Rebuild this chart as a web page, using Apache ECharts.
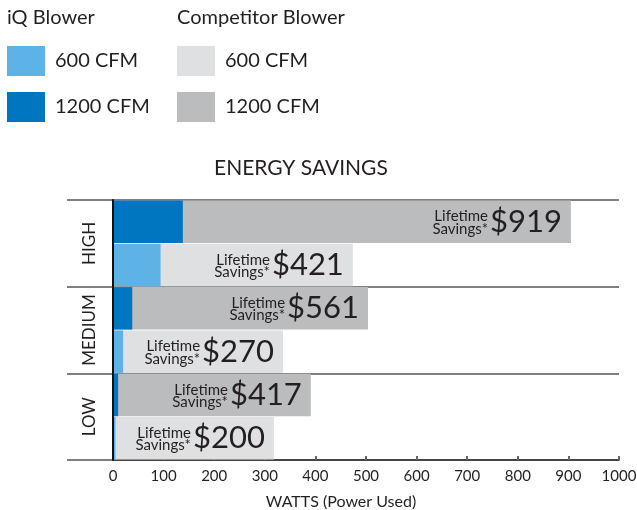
<!DOCTYPE html>
<html>
<head>
<meta charset="utf-8">
<script src="https://cdn.jsdelivr.net/npm/echarts@6/dist/echarts.min.js"></script>
<style>
  html, body { margin: 0; padding: 0; background: #ffffff; }
  #chart { width: 637px; height: 510px; }
</style>
</head>
<body>
<div id="chart"></div>
<script>
// Fan speed levels, top to bottom
const levels = ['HIGH', 'MEDIUM', 'LOW'];

// Power draw in watts per level
const iq1200 = [138, 38, 10];
const iq600 = [94, 20, 5];
const comp1200 = [905, 504, 391];
const comp600 = [474, 336, 318];

// Lifetime savings in dollars per level
const savings1200 = [919, 561, 417];
const savings600 = [421, 270, 200];

// Axis ticks
const wattTicks = { min: 0, max: 1000, step: 100 };

const FONT = 'Lato';
const INK = '#231f20';
const COLORS = {
  iq600: '#5db3e6',
  iq1200: '#0075c0',
  comp600: '#dfe0e2',
  comp1200: '#bbbcbe'
};
const BIG_SIZE = 31;

// Each level gets two rows: 1200 CFM on top, 600 CFM below
const rowKeys = [];
levels.forEach(l => { rowKeys.push(l + ' 1200'); rowKeys.push(l + ' 600'); });

function rowsFor(top, bottom) {
  const out = [];
  levels.forEach((l, i) => {
    out.push(top ? top[i] : '-');
    out.push(bottom ? bottom[i] : '-');
  });
  return out;
}

const compRows = rowsFor(comp1200, comp600);
const savingsRows = rowsFor(savings1200, savings600);

// Width of the dollar figure, so the small caption can sit right before it
const measure = document.createElement('canvas').getContext('2d');
measure.font = BIG_SIZE + 'px ' + FONT;
const bigText = v => '$' + v;
const bigWidth = v => measure.measureText(bigText(v)).width;

const noteData = compRows.map((v, i) => ({
  value: v,
  label: { offset: [-(bigWidth(savingsRows[i]) + 2), 1] }
}));

const chart = echarts.init(document.getElementById('chart'), null, { renderer: 'canvas' });

const bigLabel = {
  show: true,
  position: 'insideRight',
  distance: 9,
  formatter: p => '{n|' + bigText(savingsRows[p.dataIndex]) + '}',
  rich: { n: { fontSize: BIG_SIZE, fontFamily: FONT, color: INK } }
};

const splitStyle = { show: true, lineStyle: { color: '#555555', width: 1.5 } };

chart.setOption({
  animation: false,
  backgroundColor: '#ffffff',
  textStyle: { fontFamily: FONT },
  title: [
    { text: 'iQ Blower', left: 7, top: 8, padding: 0,
      textStyle: { fontSize: 20, fontWeight: 'normal', color: INK, fontFamily: FONT } },
    { text: 'Competitor Blower', left: 177, top: 8, padding: 0,
      textStyle: { fontSize: 20, fontWeight: 'normal', color: INK, fontFamily: FONT } },
    { text: 'ENERGY SAVINGS', left: 214, top: 158, padding: 0,
      textStyle: { fontSize: 21, fontWeight: 'normal', color: INK, fontFamily: FONT } }
  ],
  legend: [
    { data: ['iQ 600 CFM', 'iQ 1200 CFM'], left: 7, top: 46, padding: 0,
      orient: 'vertical', icon: 'rect', itemWidth: 38, itemHeight: 30, itemGap: 16,
      selectedMode: false,
      formatter: n => n.replace(/^iQ /, ''),
      textStyle: { fontSize: 20, color: INK, fontFamily: FONT, padding: [0, 0, 0, 5] } },
    { data: ['Competitor 600 CFM', 'Competitor 1200 CFM'], left: 177, top: 46, padding: 0,
      orient: 'vertical', icon: 'rect', itemWidth: 38, itemHeight: 30, itemGap: 16,
      selectedMode: false,
      formatter: n => n.replace(/^Competitor /, ''),
      textStyle: { fontSize: 20, color: INK, fontFamily: FONT, padding: [0, 0, 0, 5] } }
  ],
  grid: [
    { left: 113, right: 18, top: 200, height: 260, outerBoundsMode: 'none' },
    { left: 67, width: 46, top: 200, height: 260, outerBoundsMode: 'none' }
  ],
  xAxis: [
    {
      gridIndex: 0, type: 'value',
      min: wattTicks.min, max: wattTicks.max, interval: wattTicks.step,
      axisLine: { show: true, lineStyle: { color: '#333333', width: 1.5 } },
      axisTick: { show: true, inside: true, length: 4, lineStyle: { color: '#666666', width: 2 } },
      axisLabel: { fontSize: 15, color: INK, margin: 9, fontFamily: FONT, formatter: v => String(v) },
      splitLine: { show: false },
      name: 'WATTS (Power Used)', nameLocation: 'middle', nameGap: 34,
      nameTextStyle: { fontSize: 16, color: INK, fontFamily: FONT, padding: [0, 50, 0, 0] }
    },
    { gridIndex: 1, type: 'value', show: false }
  ],
  yAxis: [
    {
      gridIndex: 0, type: 'category', data: rowKeys, inverse: true, position: 'left',
      axisLine: { show: true, onZero: false, lineStyle: { color: '#111111', width: 2 } },
      axisTick: { show: false }, axisLabel: { show: false }, splitLine: { show: false }, z: 5
    },
    {
      gridIndex: 0, type: 'category', data: levels, inverse: true, position: 'left',
      axisLine: { show: false }, axisTick: { show: false },
      axisLabel: { rotate: 90, interval: 0, margin: 15, fontSize: 17, color: INK, fontFamily: FONT },
      splitLine: splitStyle
    },
    {
      gridIndex: 1, type: 'category', data: levels, inverse: true,
      axisLine: { show: false }, axisTick: { show: false }, axisLabel: { show: false },
      splitLine: splitStyle
    }
  ],
  series: [
    { name: 'Competitor 1200 CFM', type: 'bar', data: rowsFor(comp1200, null),
      barGap: '-100%', barCategoryGap: '2%', itemStyle: { color: COLORS.comp1200 }, label: bigLabel },
    { name: 'Competitor 600 CFM', type: 'bar', data: rowsFor(null, comp600),
      barGap: '-100%', barCategoryGap: '2%', itemStyle: { color: COLORS.comp600 }, label: bigLabel },
    { name: 'iQ 1200 CFM', type: 'bar', data: rowsFor(iq1200, null),
      barGap: '-100%', barCategoryGap: '2%', itemStyle: { color: COLORS.iq1200 } },
    { name: 'iQ 600 CFM', type: 'bar', data: rowsFor(null, iq600),
      barGap: '-100%', barCategoryGap: '2%', itemStyle: { color: COLORS.iq600 } },
    { name: 'caption', type: 'bar', data: noteData, silent: true,
      barGap: '-100%', barCategoryGap: '2%', itemStyle: { color: 'rgba(0,0,0,0)' },
      label: {
        show: true, position: 'insideRight', distance: 9,
        formatter: 'Lifetime\nSavings*',
        fontSize: 15, lineHeight: 12.5, color: INK, fontFamily: FONT
      } }
  ]
});
</script>
</body>
</html>
